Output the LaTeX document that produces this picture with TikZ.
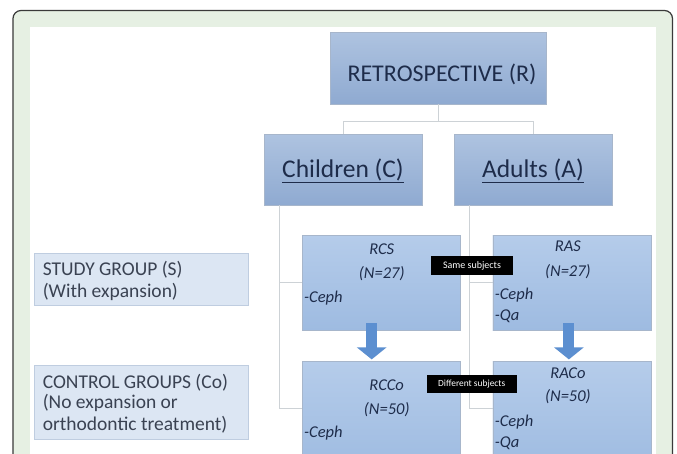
\documentclass[tikz,border=0pt]{standalone}
\usepackage{fontspec}
\setmainfont{Carlito}
\usetikzlibrary{calc,arrows.meta}
\definecolor{frameg}{HTML}{E6F0E3}
\definecolor{frameline}{HTML}{3A3A3A}
\definecolor{topA}{HTML}{AEC3E0}
\definecolor{botA}{HTML}{8FAAD1}
\definecolor{topB}{HTML}{B5CCEA}
\definecolor{botB}{HTML}{9EBBE1}
\definecolor{edgeA}{HTML}{A7B6CB}
\definecolor{lightbox}{HTML}{DCE6F3}
\definecolor{lightedge}{HTML}{BFCDE0}
\definecolor{navy}{HTML}{1E2C4A}
\definecolor{sidetext}{HTML}{3A4252}
\definecolor{connc}{HTML}{CDD2D6}
\definecolor{arrowc}{HTML}{5C8FD0}
\tikzset{
  topbox/.style={draw=edgeA, line width=0.6pt, top color=topA, bottom color=botA,
    inner sep=0pt, text=navy},
  subbox/.style={draw=edgeA, line width=0.6pt, top color=topB, bottom color=botB,
    inner sep=0pt},
  sidebox/.style={draw=lightedge, line width=0.8pt, fill=lightbox, inner sep=0pt},
  conn/.style={draw=connc, line width=0.9pt},
  fatarrow/.style={draw=arrowc, line width=11pt, -{Triangle[width=29pt,length=12pt]}},
  blabel/.style={fill=black, text=white, inner sep=0pt, font=\fontsize{10}{12}\selectfont},
  itx/.style={inner sep=0pt, text=navy, font=\fontsize{16.5}{19}\selectfont\itshape},
  sidetx/.style={inner sep=0pt, text=sidetext, anchor=west, font=\fontsize{19.5}{22}\selectfont},
}
\begin{document}
\begin{tikzpicture}[x=1pt,y=-1pt]
\useasboundingbox (0,0) rectangle (677,453);
\clip (0,0) rectangle (677,453);
\fill[white] (0,0) rectangle (677,453);
% frame
\draw[fill=frameg, draw=frameline, line width=1.2pt, rounded corners=8pt]
  (13,10.5) -- (672.5,10.5) -- (672.5,480) -- (13,480) -- cycle;
\fill[white] (30,27) rectangle (656,480);

% boxes
\node[topbox, minimum width=216pt, minimum height=72pt] (R) at (438,68) {};
\node[topbox, minimum width=158pt, minimum height=71pt] (C) at (343,169.5) {};
\node[topbox, minimum width=158pt, minimum height=71pt] (A) at (533,169.5) {};

% connectors
\draw[conn] (R.south) -- ++(0,17);
\draw[conn] (C.north) |- ($(R.south)+(0,17)$) -| (A.north);

\node[subbox, minimum width=158pt, minimum height=95pt] (RCS) at (381.7,282.5) {};
\node[subbox, minimum width=158pt, minimum height=95pt] (RAS) at (571.9,282.5) {};
\node[subbox, minimum width=158pt, minimum height=108pt] (RCCo) at (381.7,415.7) {};
\node[subbox, minimum width=158pt, minimum height=108pt] (RACo) at (571.9,415.7) {};

\draw[conn] ([xshift=16pt]C.south west) |- ([yshift=-47.3pt]RCCo.north west);
\draw[conn] ([xshift=16pt]A.south west) |- ([yshift=-47.3pt]RACo.north west);
\draw[conn] ([xshift=16pt]C.south west |- RCS.west) -- (RCS.west);
\draw[conn] ([xshift=16pt]A.south west |- RAS.west) -- (RAS.west);

% redraw boxes on top of connectors
\node[subbox, minimum width=158pt, minimum height=95pt] at (RCS) {};
\node[subbox, minimum width=158pt, minimum height=95pt] at (RAS) {};
\node[subbox, minimum width=158pt, minimum height=108pt] at (RCCo) {};
\node[subbox, minimum width=158pt, minimum height=108pt] at (RACo) {};

% headings
\node[inner sep=0pt, text=navy, font=\fontsize{24}{28}\selectfont] at ($(R)+(4,6)$) {RETROSPECTIVE (R)};
\node[inner sep=0pt, text=navy, font=\fontsize{25.5}{30}\selectfont] at ($(C)+(0,1)$) {\underline{Children (C)}};
\node[inner sep=0pt, text=navy, font=\fontsize{25.5}{30}\selectfont] at ($(A)+(0,1)$) {\underline{Adults (A)}};

% inner texts
\node[itx] at ($(RCS.north)+(0,14)$) {RCS};
\node[itx] at ($(RCS.north)+(0,39)$) {(N=27)};
\node[itx, anchor=west] at ($(RCS.north west)+(1.5,63)$) {-Ceph};

\node[itx] at ($(RAS.north)+(-4,12)$) {RAS};
\node[itx] at ($(RAS.north)+(-4,37)$) {(N=27)};
\node[itx, anchor=west] at ($(RAS.north west)+(2,60)$) {-Ceph};
\node[itx, anchor=west] at ($(RAS.north west)+(2,82)$) {-Qa};

\node[itx] at ($(RCCo.north)+(5,23.3)$) {RCCo};
\node[itx] at ($(RCCo.north)+(5,48.3)$) {(N=50)};
\node[itx, anchor=west] at ($(RCCo.north west)+(1.5,71.3)$) {-Ceph};

\node[itx] at ($(RACo.north)+(-4,11.3)$) {RACo};
\node[itx] at ($(RACo.north)+(-4,35.3)$) {(N=50)};
\node[itx, anchor=west] at ($(RACo.north west)+(2,60.3)$) {-Ceph};
\node[itx, anchor=west] at ($(RACo.north west)+(2,82.3)$) {-Qa};

% fat arrows
\draw[fatarrow] ([xshift=-10pt,yshift=7pt]RCS.south) -- ([xshift=-10pt,yshift=2pt]RCCo.north);
\draw[fatarrow] ([xshift=-3pt,yshift=7pt]RAS.south) -- ([xshift=-3pt,yshift=2pt]RACo.north);

% black labels
\node[blabel, minimum width=82pt, minimum height=19pt] (same) at (472,265.5) {Same subjects};
\node[blabel, minimum width=90pt, minimum height=18pt, font=\fontsize{9.4}{11}\selectfont] (diff) at (471.7,384) {Different subjects};

% side boxes
\node[sidebox, minimum width=214pt, minimum height=52pt] (S) at (141,279) {};
\node[sidetx] at ($(S.north west)+(9,17)$) {STUDY GROUP (S)};
\node[sidetx] at ($(S.north west)+(9,39)$) {(With expansion)};
\node[sidebox, minimum width=214pt, minimum height=73.3pt] (Co) at (141,402.35) {};
\node[sidetx] at ($(Co.north west)+(9,17)$) {CONTROL GROUPS (Co)};
\node[sidetx] at ($(Co.north west)+(9,37.5)$) {(No expansion or};
\node[sidetx] at ($(Co.north west)+(9,59)$) {orthodontic treatment)};
\end{tikzpicture}
\end{document}
